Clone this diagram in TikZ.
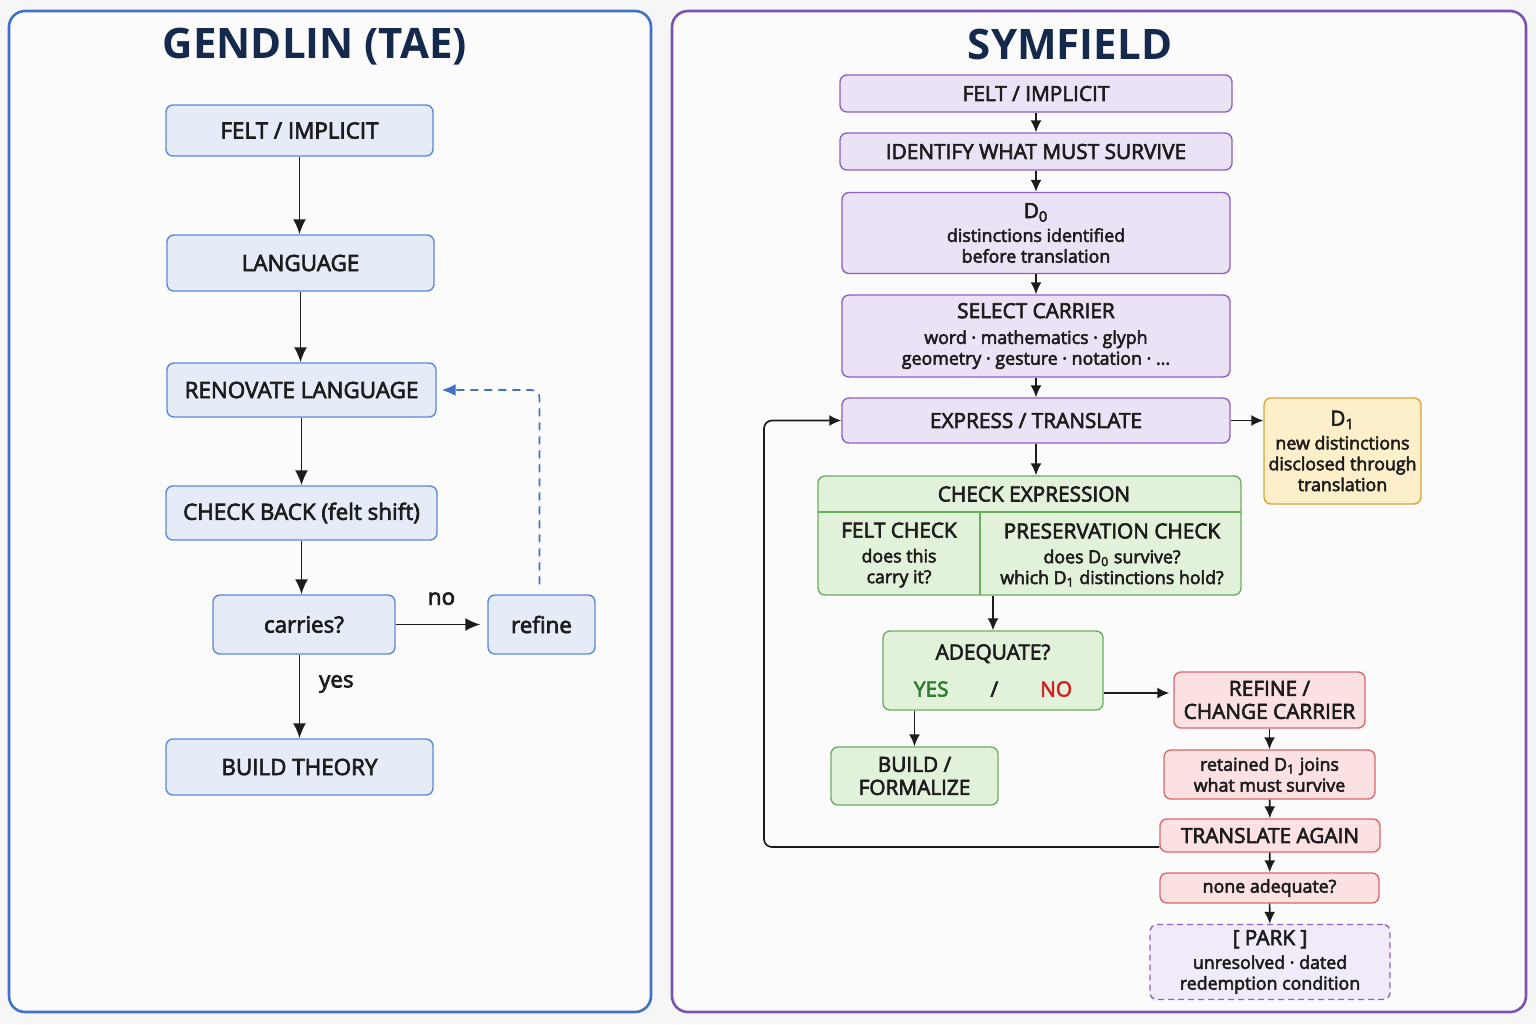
\documentclass[tikz,border=0pt]{standalone}
\usepackage{fontspec}
\setmainfont{Open Sans}
\newfontfamily\medfont[FakeBold=3]{Open Sans}
\usetikzlibrary{arrows.meta,positioning}
\definecolor{pagebg}{HTML}{F6F6F7}
\definecolor{panelfill}{HTML}{FBFBFC}
\definecolor{navy}{HTML}{15294D}
\definecolor{ink}{HTML}{1C1C1C}
\definecolor{leftedge}{HTML}{3F72C6}
\definecolor{rightedge}{HTML}{7B52AE}
\definecolor{bluedge}{HTML}{5A8AD6}
\definecolor{bluefill}{HTML}{E5ECF8}
\definecolor{purpedge}{HTML}{8C62C2}
\definecolor{purpfill}{HTML}{ECE2F5}
\definecolor{parkfill}{HTML}{F1EAF8}
\definecolor{greenedge}{HTML}{6CAE5F}
\definecolor{greenfill}{HTML}{E2F1DA}
\definecolor{rededge}{HTML}{D9696B}
\definecolor{redfill}{HTML}{FBE1E1}
\definecolor{orangeedge}{HTML}{D8A43A}
\definecolor{orangefill}{HTML}{FCEFC9}
\definecolor{yesgreen}{HTML}{2E7D2E}
\definecolor{nored}{HTML}{D42020}
\newcommand{\titlefont}{\fontsize{21}{24}\selectfont\bfseries}
\newcommand{\lfont}{\fontsize{11.2}{13}\selectfont\medfont}
\newcommand{\rfont}{\fontsize{10.4}{11.5}\selectfont\medfont}
\newcommand{\sfont}{\fontsize{8.9}{10.4}\selectfont\medfont}

\tikzset{
  panel/.style={rounded corners=8pt, line width=1.3pt, fill=panelfill},
  bbox/.style={draw=bluedge, fill=bluefill, rounded corners=3.5pt, line width=0.7pt,
    inner sep=0pt, align=center, font=\lfont, text=ink},
  pbox/.style={bbox, draw=purpedge, fill=purpfill, font=\rfont},
  gbox/.style={pbox, draw=greenedge, fill=greenfill},
  rbox/.style={pbox, draw=rededge, fill=redfill},
  obox/.style={pbox, draw=orangeedge, fill=orangefill},
  parkbox/.style={pbox, dash pattern=on 3pt off 2pt, fill=parkfill},
  flow/.style={-{Latex[length=7.5pt,width=6.5pt]}, line width=0.95pt, draw=ink},
  sflow/.style={-{Latex[length=6pt,width=5.5pt]}, line width=0.85pt, draw=ink},
  back/.style={-{Latex[length=7pt,width=6pt]}, line width=0.8pt, draw=leftedge, dash pattern=on 4pt off 3pt},
}

\begin{document}
\begin{tikzpicture}[x=0.5pt,y=-0.5pt,>=Latex]
  \path[use as bounding box, fill=pagebg] (0,0) rectangle (1536,1024);
  % two panels
  \draw[panel, draw=leftedge] (9,11) rectangle (651,1012);
  \draw[panel, draw=rightedge] (672,11) rectangle (1526,1012);
  \node[font=\titlefont, text=navy] (ltitle) at (315,47) {GENDLIN (TAE)};
  \node[font=\titlefont, text=navy] (rtitle) at (1070,44) {SYMFIELD};

  % Gendlin side
  \node[bbox, minimum width=133.5pt, minimum height=25.5pt] (felt) at (299.5,130.5) {FELT / IMPLICIT};
  \node[bbox, minimum width=133.5pt, minimum height=28pt] (lang) at (300.5,263) {LANGUAGE};
  \node[bbox, minimum width=134.5pt, minimum height=27pt] (renov) at (301.5,390) {RENOVATE LANGUAGE};
  \node[bbox, minimum width=135.5pt, minimum height=27pt] (checkb) at (301.5,513) {CHECK BACK (felt shift)};
  \node[bbox, minimum width=91pt, minimum height=29.5pt] (carries) at (304,624.5) {carries?};
  \node[bbox, minimum width=53.5pt, minimum height=29.5pt] (refine) at (541.5,624.5) {refine};
  \node[bbox, minimum width=133.5pt, minimum height=28pt] (build) at (299.5,767) {BUILD THEORY};

  \draw[flow] (felt.south) -- (felt.south |- lang.north);
  \draw[flow] (lang.south) -- (lang.south |- renov.north);
  \draw[flow] (renov.south) -- (renov.south |- checkb.north);
  \draw[flow] (checkb.south) -- (checkb.south |- carries.north);
  \draw[flow, shorten >=3.5pt] (carries.east) -- (refine.west) node[midway, above=6pt, font=\lfont, text=ink] (nolab) {no};
  \draw[flow] (build.north |- carries.south) -- (build.north) node[pos=0.35, right=6pt, font=\lfont, text=ink] (yeslab) {yes};
  \draw[back, rounded corners=4pt, shorten <=5pt, shorten >=2.5pt] ([xshift=-1pt]refine.north) |- (renov.east);

  % Symfield side
  \node[pbox, minimum width=196pt, minimum height=18.5pt] (sfelt) at (1036,93.5) {FELT / IMPLICIT};
  \node[pbox, minimum width=196pt, minimum height=18.5pt] (ident) at (1036,151.5) {IDENTIFY WHAT MUST SURVIVE};
  \node[pbox, minimum width=194pt, minimum height=40.5pt, font=\sfont] (dzero) at (1036,233)
    {{\rfont D\textsubscript{0}}\\[1.5pt]distinctions identified\\before translation};
  \node[pbox, minimum width=194pt, minimum height=41pt, font=\sfont] (select) at (1036,336)
    {{\rfont SELECT CARRIER}\\[2.5pt]word · mathematics · glyph\\geometry · gesture · notation · ...};
  \node[pbox, minimum width=194pt, minimum height=22.5pt] (express) at (1036,420.5) {EXPRESS / TRANSLATE};
  \node[obox, minimum width=78.5pt, minimum height=53pt, font=\sfont] (done) at (1342.5,451)
    {{\rfont D\textsubscript{1}}\\[1.5pt]new distinctions\\disclosed through\\translation};

  \node[gbox, minimum width=211.5pt, minimum height=59.5pt] (check) at (1029.5,535.5) {};
  \draw[draw=greenedge, line width=0.7pt] (818,512) -- (1241,512);
  \draw[draw=greenedge, line width=0.7pt] (980,512) -- (980,595);
  \node[font=\rfont, text=ink] (checkhd) at (1034,494) {CHECK EXPRESSION};
  \node[font=\sfont, text=ink, align=center] (feltchk) at (899,555)
    {{\rfont FELT CHECK}\\[2pt]does this\\carry it?};
  \node[font=\sfont, text=ink, align=center] (preschk) at (1112,555)
    {{\rfont PRESERVATION CHECK}\\[2pt]does D\textsubscript{0} survive?\\which D\textsubscript{1} distinctions hold?};

  \node[gbox, minimum width=110pt, minimum height=39.5pt] (adeq) at (993,670.5)
    {ADEQUATE?\\[7pt]\textcolor{yesgreen}{YES}\hspace{21pt}/\hspace{21pt}\textcolor{nored}{NO}};
  \node[gbox, minimum width=83.5pt, minimum height=29pt] (buildf) at (914.5,776) {BUILD /\\FORMALIZE};
  \node[rbox, minimum width=95.5pt, minimum height=28pt] (refc) at (1269.5,700) {REFINE /\\CHANGE CARRIER};
  \node[rbox, minimum width=105.5pt, minimum height=24.5pt, font=\sfont] (retain) at (1269.5,774.5)
    {retained D\textsubscript{1} joins\\what must survive};
  \node[rbox, minimum width=110pt, minimum height=16.5pt] (again) at (1270,835.5) {TRANSLATE AGAIN};
  \node[rbox, minimum width=109.5pt, minimum height=15pt, font=\sfont] (none) at (1269.5,888) {none adequate?};
  \node[parkbox, minimum width=120pt, minimum height=37.5pt, font=\sfont] (park) at (1270,962)
    {{\rfont [ PARK ]}\\[1.5pt]unresolved · dated\\redemption condition};
  \coordinate (loopx) at (764,600);

  \draw[sflow] (sfelt) -- (ident);
  \draw[sflow] (ident) -- (dzero);
  \draw[sflow] (dzero) -- (select);
  \draw[sflow] (select) -- (express);
  \draw[sflow] (express.south) -- (express.south |- check.north);
  \draw[sflow] (express.east) -- (express.east -| done.west);
  \draw[sflow] (adeq.north |- check.south) -- (adeq.north);
  \draw[sflow] (buildf.north |- adeq.south) -- (buildf.north);
  \draw[sflow, shorten >=2pt] ([yshift=-11.25pt]adeq.east) -- ([yshift=-11.25pt]adeq.east -| refc.west);
  \draw[sflow] (refc) -- (retain);
  \draw[sflow] (retain) -- (again);
  \draw[sflow] (again) -- (none);
  \draw[sflow] (none) -- (park);
  \draw[sflow, rounded corners=4pt] ([yshift=-5.75pt]again.west) -| (loopx) |- (express.west);
\end{tikzpicture}
\end{document}
